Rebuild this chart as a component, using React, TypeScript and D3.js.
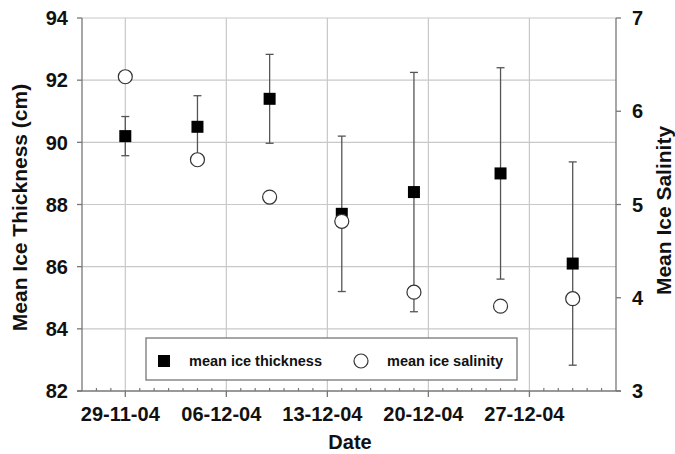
import React from 'react';
import * as d3 from 'd3';

// sampling dates and measured values
const dates = ['2004-11-29', '2004-12-04', '2004-12-09', '2004-12-14', '2004-12-19', '2004-12-25', '2004-12-30'];
const thickness = [90.2, 90.5, 91.4, 87.7, 88.4, 89.0, 86.1];
const thicknessErr = [0.63, 1.0, 1.43, 2.5, 3.85, 3.4, 3.27];
const salinity = [6.37, 5.48, 5.08, 4.82, 4.06, 3.91, 3.99];

const leftTicks = [82, 84, 86, 88, 90, 92, 94];
const rightTicks = [3, 4, 5, 6, 7];
const majorDates = ['2004-11-29', '2004-12-06', '2004-12-13', '2004-12-20', '2004-12-27'];

const W = 675;
const H = 454;
const margin = { top: 18, right: 59, bottom: 63, left: 82 };
const font = '"Liberation Sans", Arial, sans-serif';

const parse = d3.timeParse('%Y-%m-%d');
const fmt = d3.timeFormat('%d-%m-%y');

const App = () => {
  const x = d3.scaleTime()
    .domain([parse('2004-11-26')!, parse('2005-01-02')!])
    .range([margin.left, W - margin.right]);
  const yL = d3.scaleLinear().domain([82, 94]).range([H - margin.bottom, margin.top]);
  const yR = d3.scaleLinear().domain([3, 7]).range([H - margin.bottom, margin.top]);

  const x0 = margin.left;
  const x1 = W - margin.right;
  const y0 = H - margin.bottom;
  const y1 = margin.top;

  const majors = majorDates.map(d => parse(d)!);
  const majorSet = new Set(majors.map(d => +d));
  const minors = d3.timeDay.range(parse('2004-11-27')!, parse('2005-01-02')!)
    .filter(d => !majorSet.has(+d));

  const pts = dates.map((d, i) => ({
    x: x(parse(d)!),
    t: thickness[i],
    e: thicknessErr[i],
    s: salinity[i],
  }));

  const gridColor = '#c8c8c8';
  const axisColor = '#777';

  const legY = 361;

  return (
    <div style={{ position: 'absolute', left: 0, top: 0 }}>
      <svg width={W} height={H} style={{ display: 'block', background: '#fff' }} fontFamily={font}>
        {/* grid */}
        {leftTicks.filter(t => t > 82).map(t => (
          <line key={'h' + t} x1={x0} x2={x1} y1={yL(t)} y2={yL(t)} stroke={gridColor} strokeWidth={1.2} />
        ))}
        {majors.map(d => (
          <line key={'v' + +d} x1={x(d)} x2={x(d)} y1={y1} y2={y0} stroke={gridColor} strokeWidth={1.2} />
        ))}

        {/* left axis */}
        <line x1={x0} x2={x0} y1={y1} y2={y0} stroke={axisColor} strokeWidth={1.3} />
        {leftTicks.map(t => (
          <g key={'lt' + t}>
            <line x1={x0 - 5} x2={x0} y1={yL(t)} y2={yL(t)} stroke={axisColor} strokeWidth={1.3} />
            <text x={68} y={yL(t)} dy="0.36em" textAnchor="end" fontSize={20} fontWeight="bold" fill="#111">{t}</text>
          </g>
        ))}

        {/* right axis */}
        <line x1={x1} x2={x1} y1={y1} y2={y0} stroke={axisColor} strokeWidth={1.3} />
        {rightTicks.map(t => (
          <g key={'rt' + t}>
            <line x1={x1} x2={x1 + 5} y1={yR(t)} y2={yR(t)} stroke={axisColor} strokeWidth={1.3} />
            <text x={632} y={yR(t)} dy="0.36em" textAnchor="start" fontSize={20} fontWeight="bold" fill="#111">{t}</text>
          </g>
        ))}

        {/* bottom axis */}
        <line x1={x0 - 5} x2={x1 + 5} y1={y0} y2={y0} stroke={axisColor} strokeWidth={1.3} />
        {minors.map(d => (
          <line key={'mn' + +d} x1={x(d)} x2={x(d)} y1={y0 - 3} y2={y0} stroke={axisColor} strokeWidth={1.2} />
        ))}
        {majors.map(d => (
          <g key={'mj' + +d}>
            <line x1={x(d)} x2={x(d)} y1={y0} y2={y0 + 6} stroke={axisColor} strokeWidth={1.3} />
            <text x={x(d) - 5} y={421} textAnchor="middle" fontSize={20} fontWeight="bold" fill="#111">{fmt(d)}</text>
          </g>
        ))}

        {/* axis titles */}
        <text transform={`translate(27,${(y0 + y1) / 2 + 3}) rotate(-90)`} textAnchor="middle" fontSize={21} fontWeight="bold" fill="#111">Mean Ice Thickness (cm)</text>
        <text transform={`translate(671,${(y0 + y1) / 2 + 6}) rotate(-90)`} textAnchor="middle" fontSize={21} fontWeight="bold" fill="#111">Mean Ice Salinity</text>
        <text x={(x0 + x1) / 2 + 1} y={449} textAnchor="middle" fontSize={20} fontWeight="bold" fill="#111">Date</text>

        {/* legend */}
        <rect x={146} y={338} width={371} height={42} fill="#fff" stroke={axisColor} strokeWidth={1.3} />
        <rect x={158} y={legY - 6} width={12} height={12} fill="#000" />
        <text x={189} y={legY} dy="0.36em" fontSize={14.5} fontWeight="bold" fill="#111">mean ice thickness</text>
        <circle cx={361} cy={legY} r={7} fill="#fff" stroke="#333" strokeWidth={1.2} />
        <text x={387} y={legY} dy="0.36em" fontSize={14.5} fontWeight="bold" fill="#111">mean ice salinity</text>

        {/* error bars */}
        {pts.map((p, i) => (
          <g key={'e' + i} stroke="#555" strokeWidth={1.3}>
            <line x1={p.x} x2={p.x} y1={yL(p.t + p.e)} y2={yL(p.t - p.e)} />
            <line x1={p.x - 4} x2={p.x + 4} y1={yL(p.t + p.e)} y2={yL(p.t + p.e)} />
            <line x1={p.x - 4} x2={p.x + 4} y1={yL(p.t - p.e)} y2={yL(p.t - p.e)} />
          </g>
        ))}

        {/* thickness squares */}
        {pts.map((p, i) => (
          <rect key={'s' + i} x={p.x - 6} y={yL(p.t) - 6} width={12} height={12} fill="#000" />
        ))}

        {/* salinity circles */}
        {pts.map((p, i) => (
          <circle key={'c' + i} cx={p.x} cy={yR(p.s)} r={7} fill="#fff" stroke="#333" strokeWidth={1.2} />
        ))}
      </svg>
    </div>
  );
};

export default App;
